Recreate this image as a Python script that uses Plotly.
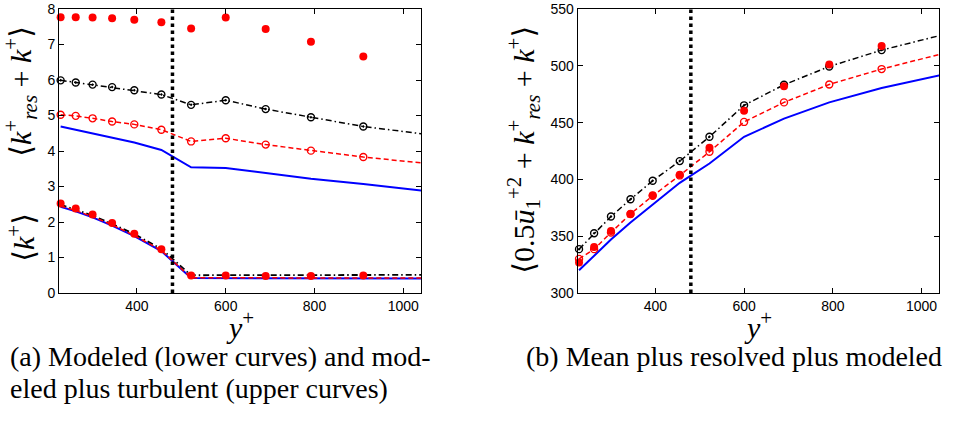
import plotly.graph_objects as go

# ---- data ----
y_plus = [228, 262, 300, 344, 394, 455, 522, 600, 690, 792, 910, 1045]
y_marks = y_plus[:11]
y_interface = 480

# Left panel: upper curves (modeled + turbulent)
up_blue = [4.69, 4.60, 4.51, 4.38, 4.24, 4.03, 3.54, 3.52, 3.37, 3.22, 3.07, 2.88]
up_red = [5.02, 4.99, 4.92, 4.83, 4.75, 4.60, 4.27, 4.36, 4.18, 4.01, 3.83, 3.66]
up_black = [5.99, 5.93, 5.87, 5.80, 5.71, 5.59, 5.30, 5.43, 5.18, 4.95, 4.69, 4.48]
up_dots = [7.77, 7.77, 7.76, 7.74, 7.70, 7.63, 7.45, 7.76, 7.44, 7.08, 6.66]

# Left panel: lower curves (modeled)
lo_blue = [2.43, 2.30, 2.13, 1.90, 1.60, 1.18, 0.42, 0.42, 0.42, 0.41, 0.41, 0.41]
lo_red = [2.45, 2.32, 2.15, 1.92, 1.62, 1.20, 0.43, 0.43, 0.42, 0.42, 0.42, 0.42]
lo_black = [2.48, 2.35, 2.18, 1.95, 1.66, 1.24, 0.50, 0.50, 0.50, 0.50, 0.51, 0.51]
lo_dots = [2.52, 2.38, 2.21, 1.97, 1.67, 1.23, 0.49, 0.49, 0.48, 0.48, 0.49]

# Right panel: mean + resolved + modeled
r_blue = [320, 333, 347, 362, 378, 397, 414, 437.5, 453.5, 467.8, 480.4, 492]
r_red = [330, 338.6, 353.2, 369.6, 385.5, 403.5, 424.3, 450.6, 467.8, 483.6, 497.1, 510.5]
r_black = [338.6, 352.6, 367.3, 382.5, 398.8, 416.1, 437.5, 465.2, 483.3, 499.4, 513.8, 527]
r_dots = [326.9, 340.6, 354.6, 369.6, 386.0, 404.1, 427.8, 460.5, 482.0, 501.2, 517.5]

x_ticks = [400, 600, 800, 1000]
left_ticks = [0, 1, 2, 3, 4, 5, 6, 7, 8]
right_ticks = [300, 350, 400, 450, 500, 550]

W, H = 972, 421
TOP, BOT = 9.3, 293.3

def px(x):
    return x / W

def py(y):
    return (BOT - y) / (BOT - TOP)

BLUE = "#0000ff"
RED = "#ff0000"
BLACK = "#000000"
DASH = "5px,3px"
DASHDOT = "6px,3px,1.5px,3px"

fig = go.Figure()

def line(x, y, color, dash, width, xa, ya):
    fig.add_trace(go.Scatter(x=x, y=y, mode="lines", xaxis=xa, yaxis=ya,
                             line=dict(color=color, dash=dash, width=width),
                             showlegend=False, hoverinfo="skip"))

def marks(x, y, color, symbol, size, xa, ya, lw=1.4):
    fig.add_trace(go.Scatter(x=x, y=y, mode="markers", xaxis=xa, yaxis=ya,
                             marker=dict(color=color, symbol=symbol, size=size,
                                         line=dict(color=color, width=lw)),
                             cliponaxis=False, showlegend=False, hoverinfo="skip"))

# left panel
line(y_plus, up_blue, BLUE, "solid", 2, "x", "y")
line(y_plus, up_red, RED, DASH, 1.5, "x", "y")
line(y_plus, up_black, BLACK, DASHDOT, 1.5, "x", "y")
marks(y_marks, up_red[:11], RED, "circle-open", 7, "x", "y")
marks(y_marks, up_black[:11], BLACK, "circle-open-dot", 7, "x", "y")
marks(y_marks, up_dots, RED, "circle", 8, "x", "y", 0)
line(y_plus, lo_black, BLACK, DASHDOT, 1.8, "x", "y")
line(y_plus, lo_blue, BLUE, "solid", 2, "x", "y")
line(y_plus, lo_red, RED, DASH, 1.5, "x", "y")
marks(y_marks, lo_dots, RED, "circle", 8, "x", "y", 0)

# right panel
line(y_plus, r_blue, BLUE, "solid", 2, "x2", "y2")
line(y_plus, r_red, RED, DASH, 1.5, "x2", "y2")
line(y_plus, r_black, BLACK, DASHDOT, 1.5, "x2", "y2")
marks(y_marks, r_red[:11], RED, "circle-open", 7, "x2", "y2")
marks(y_marks, r_black[:11], BLACK, "circle-open-dot", 7, "x2", "y2")
marks(y_marks, r_dots, RED, "circle", 8, "x2", "y2", 0)

tickfont = dict(family="Liberation Sans, Arial, sans-serif", size=14, color="black")
axcommon = dict(showgrid=False, zeroline=False, showline=True, linecolor="black",
                linewidth=1.2, mirror="ticks", ticks="inside", ticklen=5,
                tickcolor="black", tickwidth=1, tickfont=tickfont)

fig.update_layout(
    width=W, height=H,
    margin=dict(l=0, r=0, t=TOP, b=H - BOT),
    paper_bgcolor="white", plot_bgcolor="white",
    xaxis=dict(domain=[px(59.3), px(421)], range=[225, 1040], tickvals=x_ticks,
               anchor="y", **axcommon),
    yaxis=dict(domain=[0, 1], range=[0, 8], tickvals=left_ticks, anchor="x", **axcommon),
    xaxis2=dict(domain=[px(577.7), px(939.3)], range=[225, 1040], tickvals=x_ticks,
                anchor="y2", **axcommon),
    yaxis2=dict(domain=[0, 1], range=[300, 550], tickvals=right_ticks, anchor="x2",
                **axcommon),
)

# interface dotted lines
for xr, yr in (("x", "y domain"), ("x2", "y2 domain")):
    fig.add_shape(type="line", xref=xr, yref=yr, x0=y_interface, x1=y_interface,
                  y0=0, y1=1, line=dict(color="black", width=3.5, dash="dot"))

serif = "Liberation Serif, DejaVu Serif, serif"

def ann(text, x, y, size, angle=0, xanchor="center"):
    fig.add_annotation(text=text, x=px(x), y=py(y), xref="paper", yref="paper",
                       showarrow=False, textangle=angle, xanchor=xanchor,
                       yanchor="middle", font=dict(family=serif, size=size, color="black"))

ann("⟨<i>k</i><sup>+</sup><sub><i>res</i></sub> + <i>k</i><sup>+</sup>⟩", 21, 92, 30, -90)
ann("⟨<i>k</i><sup>+</sup>⟩", 21, 238, 30, -90)
ann("⟨0.5<i>u\u0304</i><sub>1</sub><sup>+2</sup> + <i>k</i><sup>+</sup><sub><i>res</i></sub> + <i>k</i><sup>+</sup>⟩",
    524, 150, 30, -90)
ann("<i>y</i><sup>+</sup>", 240, 325, 30)
ann("<i>y</i><sup>+</sup>", 758, 325, 30)

ann("(a) Modeled (lower curves) and mod-", 8, 357, 28, xanchor="left")
ann("eled plus turbulent (upper curves)", 8, 389, 28, xanchor="left")
ann("(b) Mean plus resolved plus modeled", 524, 357, 28, xanchor="left")

fig.write_html("out.html")
